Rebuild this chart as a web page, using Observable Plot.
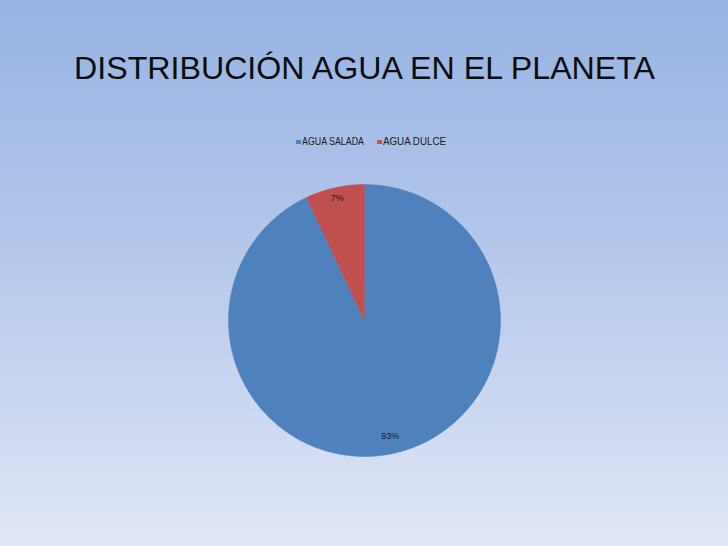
<!DOCTYPE html>
<html>
<head>
<meta charset="utf-8">
<script src="https://cdn.jsdelivr.net/npm/d3@7"></script>
<script src="https://cdn.jsdelivr.net/npm/@observablehq/plot@0.6"></script>
<style>
  html, body { margin: 0; padding: 0; }
  body {
    width: 728px; height: 546px; overflow: hidden; position: relative;
    background: linear-gradient(to bottom, #97b3e4 0%, #b4c7eb 45%, #e0e6f6 100%);
  }
  #title {
    position: absolute; left: 74px; top: 49px; white-space: nowrap;
    font-family: "Liberation Sans", Arial, sans-serif; font-size: 32px; color: #0d0d0d;
    transform-origin: 0 0; line-height: 38px;
  }
  #legend {
    position: absolute; left: 296px; top: 136px; display: flex; align-items: center;
    font-family: "Liberation Sans", Arial, sans-serif; font-size: 10px; color: #1a1a1a;
    white-space: nowrap; line-height: 12px;
  }
  .item { display: flex; align-items: center; }
  .sw { width: 4.5px; height: 4.5px; margin-right: 1.5px; }
  .box { display: inline-block; overflow: visible; }
  .txt { display: inline-block; transform-origin: 0 50%; }
  #chart { position: absolute; left: 0; top: 0; }
</style>
</head>
<body>
<div id="title"></div>
<div id="legend"></div>
<div id="chart"></div>
<script>
const titleText = "DISTRIBUCIÓN AGUA EN EL PLANETA";
const categories = ["AGUA SALADA", "AGUA DULCE"];
const values = [93, 7];
const labels = ["93%", "7%"];
const colors = ["#4f81bd", "#c0504d"];

// Title
const t = document.getElementById("title");
t.textContent = titleText;
const tw = t.getBoundingClientRect().width;
t.style.transform = `scaleX(${581 / tw})`;

// Legend
const legendTextWidths = [62, 63];
const lg = document.getElementById("legend");
categories.forEach((c, i) => {
  const it = document.createElement("div");
  it.className = "item";
  if (i > 0) it.style.marginLeft = "13px";
  const sw = document.createElement("div");
  sw.className = "sw";
  sw.style.background = colors[i];
  it.appendChild(sw);
  const box = document.createElement("span");
  box.className = "box";
  const tx = document.createElement("span");
  tx.className = "txt";
  tx.textContent = c;
  box.appendChild(tx);
  it.appendChild(box);
  lg.appendChild(it);
  const w = tx.getBoundingClientRect().width;
  box.style.width = legendTextWidths[i] + "px";
  tx.style.transform = `scaleX(${legendTextWidths[i] / w})`;
});

// Pie geometry from data
const arcs = d3.pie().sort(null).value(d => d)(values);
const pts = [];
arcs.forEach((a, i) => {
  const key = categories[i];
  pts.push({key, x: 0, y: 0});
  const n = Math.max(2, Math.ceil((a.endAngle - a.startAngle) / (Math.PI / 360)));
  for (let k = 0; k <= n; k++) {
    const ang = a.startAngle + (a.endAngle - a.startAngle) * k / n;
    pts.push({key, x: Math.sin(ang), y: Math.cos(ang)});
  }
  pts.push({key, x: 0, y: 0});
});
const labelR = [0.87, 0.92];
const labelData = arcs.map((a, i) => {
  const m = (a.startAngle + a.endAngle) / 2;
  return {x: labelR[i] * Math.sin(m), y: labelR[i] * Math.cos(m), text: labels[i]};
});

const chart = Plot.plot({
  width: 728,
  height: 546,
  margin: 0,
  style: {background: "transparent", overflow: "visible"},
  x: {domain: [-1, 1], range: [228, 500], axis: null},
  y: {domain: [-1, 1], range: [456, 184], axis: null},
  color: {domain: categories, range: colors},
  marks: [
    Plot.line(pts, {x: "x", y: "y", z: "key", fill: "key", stroke: "key", strokeWidth: 0.5, curve: "linear-closed"}),
    Plot.text(labelData, {x: "x", y: "y", text: "text", fontSize: 9, fill: "#1a1a1a",
      fontFamily: "'Liberation Sans', sans-serif"})
  ]
});
document.getElementById("chart").appendChild(chart);
</script>
</body>
</html>
